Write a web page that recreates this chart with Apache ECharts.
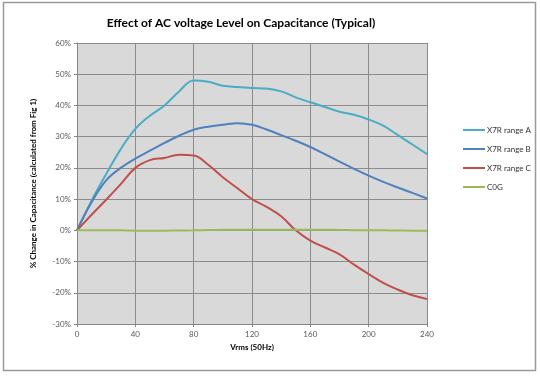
<!DOCTYPE html>
<html><head><meta charset="utf-8">
<script src="https://cdn.jsdelivr.net/npm/echarts@6/dist/echarts.min.js"></script>
<style>html,body{margin:0;padding:0;background:#fff}#c{width:540px;height:378px}</style>
</head><body><div id="c"></div>
<script>
const voltages = [0,10,20,30,40,50,60,70,80,90,100,110,120,130,140,150,160,170,180,190,200,210,220,230,240];
const x7rA = [0,9.5,18,26,32.5,36.7,40,44.5,48,47.6,46.3,45.9,45.6,45.4,44.5,42.6,41,39.5,38,37,35.5,33.5,30.5,27.5,24.4];
const x7rB = [0,9,16,20,23,25.5,28,30.3,32.2,33.2,33.8,34.3,33.8,32.3,30.5,28.7,26.7,24.4,22,19.7,17.5,15.5,13.7,12,10.2];
const x7rC = [0,5,9.8,14.8,20,22.5,23.2,24.2,24,21,17,13.5,10,7.5,4.5,0,-3.3,-5.5,-7.7,-11,-14,-16.8,-19,-20.8,-22];
const c0g  = [0,0,0,0,-0.1,-0.1,-0.1,-0.05,0,0.1,0.2,0.2,0.2,0.2,0.2,0.2,0.2,0.2,0.1,0.05,0,0,-0.05,-0.1,-0.1];
const seriesNames = ['X7R range A','X7R range B','X7R range C','C0G'];
const seriesColors = ['#4BACC6','#4F81BD','#C0504D','#9BBB59'];
const xTicks = {min:0,max:240,interval:40};
const yTicks = {min:-30,max:60,interval:10};

const font = 'Lato, "Liberation Sans", sans-serif';
const chart = echarts.init(document.getElementById('c'));
const allData = [x7rA,x7rB,x7rC,c0g];
chart.setOption({
  animation:false,
  backgroundColor:'#fff',
  graphic:[{type:'rect',shape:{x:3.5,y:2.5,width:532,height:368},style:{fill:'none',stroke:'#9a9a9a',lineWidth:1.5},silent:true,z:-1}],
  title:{text:'Effect of AC voltage Level on Capacitance (Typical)',left:236,top:12,textAlign:'center',
    textStyle:{fontFamily:font,fontSize:12,fontWeight:'bold',color:'#000'}},
  legend:{orient:'vertical',left:458,top:121,itemWidth:22,itemHeight:2,itemGap:11,icon:'rect',
    textStyle:{fontFamily:font,fontSize:8,color:'#333',padding:[0,0,0,-3]},data:seriesNames},
  grid:{left:77,right:113,top:43,bottom:54,show:true,backgroundColor:'#D9D9D9',borderWidth:0},
  xAxis:{type:'value',min:xTicks.min,max:xTicks.max,interval:xTicks.interval,
    name:'Vrms (50Hz)',nameLocation:'middle',nameGap:19,
    nameTextStyle:{fontFamily:font,fontSize:8,fontWeight:'bold',color:'#000'},
    axisLine:{show:true,onZero:false,lineStyle:{color:'#868686'}},
    axisTick:{show:true,length:3,lineStyle:{color:'#868686'}},
    axisLabel:{fontFamily:font,fontSize:8,color:'#595959',margin:6},
    splitLine:{show:true,lineStyle:{color:'#8c8c8c',width:1}}},
  yAxis:{type:'value',min:yTicks.min,max:yTicks.max,interval:yTicks.interval,
    name:'% Change in Capacitance (calculated from Fig 1)',nameLocation:'middle',nameGap:40,
    nameTextStyle:{fontFamily:font,fontSize:8,fontWeight:'bold',color:'#000'},
    axisLine:{show:true,lineStyle:{color:'#868686'}},
    axisTick:{show:true,length:3,lineStyle:{color:'#868686'}},
    axisLabel:{fontFamily:font,fontSize:8,color:'#595959',margin:6,formatter:'{value}%'},
    splitLine:{show:true,lineStyle:{color:'#8c8c8c',width:1}}},
  series:seriesNames.map((n,i)=>({
    name:n,type:'line',smooth:0.4,showSymbol:false,
    data:voltages.map((v,j)=>[v,allData[i][j]]),
    lineStyle:{color:seriesColors[i],width:2},itemStyle:{color:seriesColors[i]}
  }))
});
</script></body></html>
